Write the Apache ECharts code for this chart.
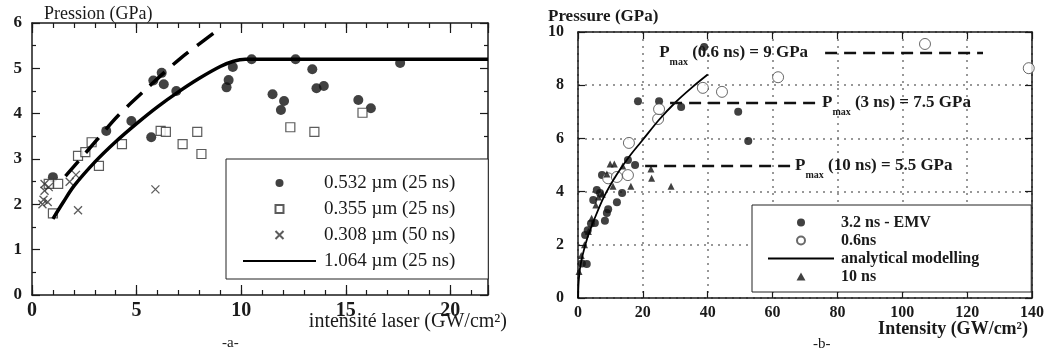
<!DOCTYPE html>
<html><head><meta charset="utf-8">
<script src="https://cdn.jsdelivr.net/npm/echarts@6/dist/echarts.min.js"></script>
<style>html,body{margin:0;padding:0;background:#fff}#c{width:1052px;height:356px}</style>
</head><body><div id="c"></div>
<script>
// ---------- Panel a ----------
const aXTicks = [0, 5, 10, 15, 20];
const aYTicks = [0, 1, 2, 3, 4, 5, 6];
const aLegend = ['0.532 µm (25 ns)', '0.355 µm (25 ns)', '0.308 µm (50 ns)', '1.064 µm (25 ns)'];
const a532 = [[1.0,2.6],[3.55,3.62],[4.75,3.84],[5.7,3.48],[5.8,4.73],[6.2,4.9],[6.3,4.65],[6.9,4.5],[9.3,4.58],[9.4,4.74],[9.6,5.03],[10.5,5.2],[11.5,4.43],[11.9,4.08],[12.05,4.28],[12.6,5.2],[13.4,4.98],[13.6,4.56],[13.95,4.61],[15.6,4.3],[16.2,4.12],[17.6,5.12]];
const a355 = [[0.8,2.45],[1.0,1.8],[1.25,2.45],[2.2,3.07],[2.55,3.15],[2.85,3.37],[3.2,2.85],[4.3,3.33],[6.15,3.62],[6.4,3.6],[7.2,3.33],[7.9,3.6],[8.1,3.11],[12.35,3.7],[13.5,3.6],[15.8,4.02]];
const a308 = [[0.5,2.0],[0.55,2.1],[0.6,2.3],[0.6,2.45],[0.75,2.05],[0.8,2.38],[1.8,2.5],[2.1,2.65],[2.2,1.87],[5.9,2.33]];
const a1064 = [[1,1.68],[1.5,2.05],[2,2.4],[3,2.93],[4,3.38],[5,3.78],[6,4.15],[7,4.48],[8,4.78],[9,5.04],[9.6,5.15],[10.2,5.2],[21.8,5.2]];
const aDashed = [[1.6,2.62],[3.1,3.42],[4.1,3.95],[5.5,4.56],[7.1,5.22],[9.05,5.9]];

// ---------- Panel b ----------
const bXTicks = [0, 20, 40, 60, 80, 100, 120, 140];
const bYTicks = [0, 2, 4, 6, 8, 10];
const bLegend = ['3.2 ns - EMV', '0.6ns', 'analytical modelling', '10 ns'];
const bEMV = [[1.2,1.3],[2.7,1.28],[2.2,2.37],[3.0,2.55],[4.0,2.8],[5.2,2.82],[4.7,3.68],[5.8,4.06],[6.8,3.95],[7.4,4.62],[8.3,2.9],[8.9,3.2],[9.3,3.34],[12,3.6],[13.6,3.95],[15.4,5.19],[17.6,5.0],[18.5,7.4],[25,7.4],[31.8,7.18],[38.9,9.44],[49.4,7.0],[52.5,5.9]];
const b06 = [[9.3,4.5],[12,4.55],[15.4,4.62],[15.7,5.83],[24.7,6.73],[25,7.1],[38.5,7.9],[44.4,7.75],[61.7,8.3],[107,9.55],[139,8.64]];
const b10 = [[0.3,1.0],[1.0,1.6],[2.0,2.0],[3.2,2.5],[4.2,3.0],[5.5,3.5],[6.3,3.8],[7.5,3.9],[8.9,4.66],[9.9,5.04],[10.8,4.2],[11.2,5.04],[13.8,4.96],[16.3,4.2],[22.5,4.85],[22.7,4.5],[28.7,4.2]];
const bModel = [[0,0],[0.2,0.6],[0.6,1.1],[1.5,1.65],[3,2.3],[5,2.95],[8,3.8],[12,4.65],[16,5.35],[20,5.95],[25,6.7],[30,7.35],[35,7.9],[40,8.4]];
const bPmax06 = [[76.2,9.21],[124.9,9.21]];
const bPmax3 = [[28.4,7.33],[73.7,7.33]];
const bPmax10 = [[20.7,4.96],[65.4,4.96]];
const bPmaxText = [' (0.6 ns) = 9 GPa', ' (3 ns) = 7.5 GPa', ' (10 ns) = 5.5 GPa'];

// ---------- styling ----------
const SERIF = '"Liberation Serif","Times New Roman",serif';
const INK = '#1a1a1a';
const NOFILL = 'rgba(0,0,0,0)';
const CROSS = 'path://M0,0L10,10M10,0L0,10';
const SQUARE = 'path://M0,0H10V10H0Z';
const TRI = 'path://M5,0L10,9L0,9Z';

function frameAxis(o) {
  return Object.assign({
    type: 'value', axisLine: { show: true, onZero: false, lineStyle: { color: INK, width: 1.5 } },
    axisTick: { show: true, inside: true, length: 8, lineStyle: { color: INK, width: 1.2 } },
    axisLabel: { show: false }, splitLine: { show: false }
  }, o);
}
const dotted = { show: true, lineStyle: { color: '#777', width: 1.5, type: [2, 5] } };

const xAxis = [
  frameAxis({ gridIndex: 0, position: 'bottom', min: 0, max: 21.8, interval: 5,
    axisTick: { show: true, inside: true, length: 10, lineStyle: { color: INK, width: 1.2 } },
    axisLabel: { show: true, margin: 6, fontFamily: SERIF, fontWeight: 'bold', fontSize: 20, color: INK,
      formatter: v => aXTicks.includes(v) ? String(v) : '' } }),
  frameAxis({ gridIndex: 0, position: 'bottom', min: 0, max: 21.8, interval: 1, axisLine: { show: false, onZero: false },
    axisTick: { show: true, inside: true, length: 5, lineStyle: { color: INK, width: 1.2 } } }),
  frameAxis({ gridIndex: 0, position: 'top', min: 0, max: 21.8, interval: 5,
    axisTick: { show: true, inside: true, length: 10, lineStyle: { color: INK, width: 1.2 } } }),
  frameAxis({ gridIndex: 0, position: 'top', min: 0, max: 21.8, interval: 1, axisLine: { show: false, onZero: false },
    axisTick: { show: true, inside: true, length: 5, lineStyle: { color: INK, width: 1.2 } } }),
  frameAxis({ gridIndex: 1, position: 'bottom', min: 0, max: 140, interval: 20, splitLine: dotted,
    axisTick: { show: true, inside: true, length: 7, lineStyle: { color: INK, width: 1.2 } },
    axisLabel: { show: true, margin: 7, fontFamily: SERIF, fontWeight: 'bold', fontSize: 16, color: INK,
      formatter: v => bXTicks.includes(v) ? String(v) : '' } }),
  frameAxis({ gridIndex: 1, position: 'top', min: 0, max: 140, interval: 20,
    axisTick: { show: true, inside: true, length: 7, lineStyle: { color: INK, width: 1.2 } } })
];
const yAxis = [
  frameAxis({ gridIndex: 0, position: 'left', min: 0, max: 6, interval: 1,
    minorTick: { show: true, splitNumber: 2, length: 4, lineStyle: { color: INK, width: 1.2 } },
    axisLabel: { show: true, margin: 10, fontFamily: SERIF, fontWeight: 'bold', fontSize: 17, color: INK,
      formatter: v => aYTicks.includes(v) ? String(v) : '' } }),
  frameAxis({ gridIndex: 0, position: 'right', min: 0, max: 6, interval: 1,
    minorTick: { show: true, splitNumber: 2, length: 4, lineStyle: { color: INK, width: 1.2 } } }),
  frameAxis({ gridIndex: 1, position: 'left', min: 0, max: 10, interval: 2, splitLine: dotted,
    axisTick: { show: true, inside: true, length: 7, lineStyle: { color: INK, width: 1.2 } },
    axisLabel: { show: true, margin: 14, fontFamily: SERIF, fontWeight: 'bold', fontSize: 16, color: INK,
      formatter: v => bYTicks.includes(v) ? String(v) : '' } }),
  frameAxis({ gridIndex: 1, position: 'right', min: 0, max: 10, interval: 2,
    axisTick: { show: true, inside: true, length: 7, lineStyle: { color: INK, width: 1.2 } } })
];

const rich = {
  p: { fontFamily: SERIF, fontWeight: 'bold', fontSize: 17, color: INK, lineHeight: 28, verticalAlign: 'middle' },
  s: { fontFamily: SERIF, fontWeight: 'bold', fontSize: 10, color: INK, lineHeight: 12, verticalAlign: 'bottom' },
  t: { fontFamily: SERIF, fontWeight: 'bold', fontSize: 17, color: INK, lineHeight: 28, verticalAlign: 'middle' }
};
function pmaxSeries(data, labelIdx, position, distance, text) {
  return {
    type: 'line', xAxisIndex: 4, yAxisIndex: 2, symbol: 'circle', symbolSize: 0, showSymbol: true,
    lineStyle: { color: '#111', width: 2.5, type: [12, 7] }, itemStyle: { color: '#111' }, z: 4,
    data: data.map((p, i) => i === labelIdx ? {
      value: p, label: { show: true, position, distance, formatter: '{p|P}{s|max}{t|' + text + '}', rich }
    } : p)
  };
}

const series = [
  { name: aLegend[0], type: 'scatter', xAxisIndex: 0, yAxisIndex: 0, data: a532, symbol: 'circle', symbolSize: 10,
    itemStyle: { color: '#111' }, z: 3 },
  { name: aLegend[1], type: 'scatter', xAxisIndex: 0, yAxisIndex: 0, data: a355, symbol: SQUARE, symbolSize: 9,
    itemStyle: { color: '#fff', borderColor: '#333', borderWidth: 1.2 }, z: 3 },
  { name: aLegend[2], type: 'scatter', xAxisIndex: 0, yAxisIndex: 0, data: a308, symbol: CROSS, symbolSize: 8,
    itemStyle: { color: NOFILL, borderColor: '#333', borderWidth: 1.3 }, z: 3 },
  { name: aLegend[3], type: 'line', xAxisIndex: 0, yAxisIndex: 0, data: a1064, symbol: 'none', smooth: 0.3,
    lineStyle: { color: '#000', width: 3.5 }, itemStyle: { color: NOFILL }, z: 4 },
  { name: 'dashed', type: 'line', xAxisIndex: 0, yAxisIndex: 0, data: aDashed, symbol: 'none', smooth: 0.3,
    lineStyle: { color: '#000', width: 3.5, type: [20, 11] }, itemStyle: { color: NOFILL }, z: 4 },

  { name: bLegend[0], type: 'scatter', xAxisIndex: 4, yAxisIndex: 2, data: bEMV, symbol: 'circle', symbolSize: 8,
    itemStyle: { color: '#111' }, z: 3 },
  { name: bLegend[1], type: 'scatter', xAxisIndex: 4, yAxisIndex: 2, data: b06, symbol: 'circle', symbolSize: 11,
    itemStyle: { color: '#fff', borderColor: '#444', borderWidth: 1 }, z: 3 },
  { name: bLegend[2], type: 'line', xAxisIndex: 4, yAxisIndex: 2, data: bModel, symbol: 'none', smooth: 0.3,
    lineStyle: { color: '#000', width: 1.8 }, itemStyle: { color: NOFILL }, z: 4 },
  { name: bLegend[3], type: 'scatter', xAxisIndex: 4, yAxisIndex: 2, data: b10, symbol: TRI, symbolSize: 7,
    itemStyle: { color: '#111' }, z: 3 },
  pmaxSeries(bPmax06, 0, 'left', 17, bPmaxText[0]),
  pmaxSeries(bPmax3, 1, 'right', 5, bPmaxText[1]),
  pmaxSeries(bPmax10, 1, 'right', 5, bPmaxText[2])
];

const option = {
  animation: false,
  backgroundColor: '#fff',
  grid: [
    { left: 32, top: 23, width: 456, height: 272 },
    { left: 578, top: 32, width: 454, height: 266 }
  ],
  xAxis, yAxis, series,
  title: [
    { text: 'Pression (GPa)', left: 44, top: 5, padding: 0,
      textStyle: { fontFamily: SERIF, fontSize: 18, fontWeight: 'normal', color: INK, lineHeight: 18 } },
    { text: 'intensité laser (GW/cm²)', right: 545, top: 312, padding: 0,
      textStyle: { fontFamily: SERIF, fontSize: 20, fontWeight: 'normal', color: INK, lineHeight: 20 } },
    { text: '-a-', left: 222, top: 336, padding: 0,
      textStyle: { fontFamily: SERIF, fontSize: 15, fontWeight: 'normal', color: INK, lineHeight: 15 } },
    { text: 'Pressure (GPa)', left: 548, top: 8, padding: 0,
      textStyle: { fontFamily: SERIF, fontSize: 17, fontWeight: 'bold', color: INK, lineHeight: 17 } },
    { text: 'Intensity (GW/cm²)', right: 24, top: 320, padding: 0,
      textStyle: { fontFamily: SERIF, fontSize: 18, fontWeight: 'bold', color: INK, lineHeight: 18 } },
    { text: '-b-', left: 813, top: 337, padding: 0,
      textStyle: { fontFamily: SERIF, fontSize: 15, fontWeight: 'normal', color: INK, lineHeight: 15 } }
  ],
  legend: [
    { orient: 'vertical', left: 226, top: 159, padding: [14, 33, 8, 16], itemWidth: 73, itemHeight: 8, itemGap: 6,
      borderColor: '#222', borderWidth: 1, backgroundColor: '#fff', selectedMode: false,
      textStyle: { fontFamily: SERIF, fontSize: 19, lineHeight: 20, color: INK, padding: [0, 0, 0, 3] },
      data: aLegend.map(n => ({ name: n })) },
    { orient: 'vertical', left: 752, top: 205, padding: [9, 52, 7, 15], itemWidth: 66, itemHeight: 8, itemGap: 1,
      borderColor: '#222', borderWidth: 1, backgroundColor: '#fff', selectedMode: false,
      textStyle: { fontFamily: SERIF, fontSize: 16, fontWeight: 'bold', lineHeight: 17, color: INK, padding: [0, 0, 0, 2] },
      data: bLegend.map(n => ({ name: n })) }
  ]
};
const chart = echarts.init(document.getElementById('c'), null, { renderer: 'canvas' });
chart.setOption(option);
</script>
</body></html>
